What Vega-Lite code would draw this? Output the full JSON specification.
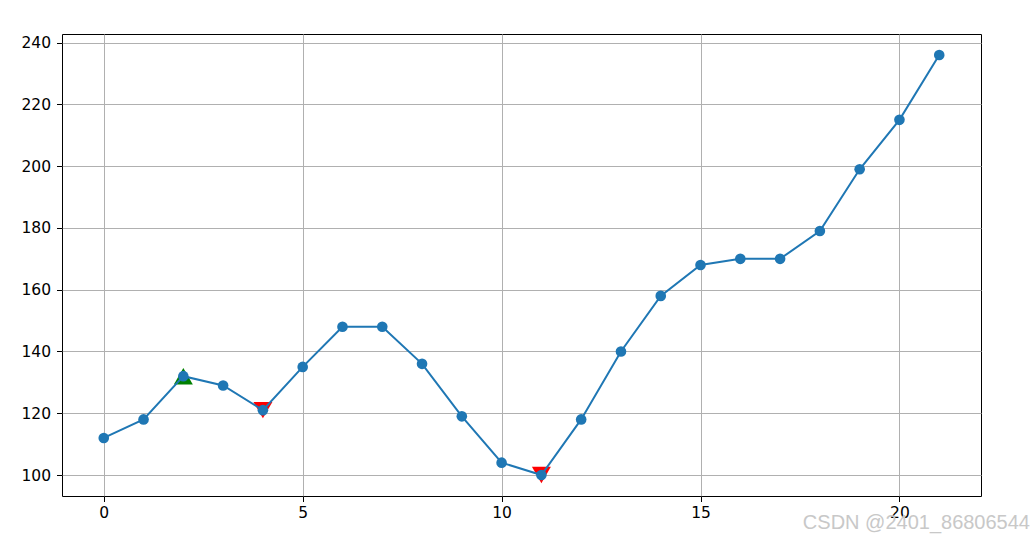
{
  "$schema": "https://vega.github.io/schema/vega-lite/v6.json",
  "width": 919,
  "height": 462,
  "autosize": {"type": "none"},
  "padding": {"left": 62, "top": 34, "right": 53, "bottom": 43},
  "background": "white",
  "config": {
    "view": {"stroke": "black", "strokeWidth": 1},
    "font": "DejaVu Sans",
    "axis": {
      "domain": false,
      "tickColor": "black",
      "tickSize": 5.5,
      "tickWidth": 1,
      "labelColor": "black",
      "labelFontSize": 15.5,
      "labelFont": "DejaVu Sans",
      "gridColor": "#b0b0b0",
      "gridWidth": 1,
      "gridOpacity": 1,
      "title": null
    },
    "axisX": {"labelPadding": 4},
    "axisY": {"labelPadding": 6}
  },
  "title": {
    "text": "CSDN @2401_86806544",
    "orient": "bottom",
    "anchor": "end",
    "color": "#c8c8c8",
    "fontSize": 20,
    "font": "Liberation Sans",
    "fontWeight": "normal",
    "offset": -8,
    "dx": 49
  },
  "datasets": {
    "series": [
      {"x": 0, "y": 112}, {"x": 1, "y": 118}, {"x": 2, "y": 132}, {"x": 3, "y": 129},
      {"x": 4, "y": 121}, {"x": 5, "y": 135}, {"x": 6, "y": 148}, {"x": 7, "y": 148},
      {"x": 8, "y": 136}, {"x": 9, "y": 119}, {"x": 10, "y": 104}, {"x": 11, "y": 100},
      {"x": 12, "y": 118}, {"x": 13, "y": 140}, {"x": 14, "y": 158}, {"x": 15, "y": 168},
      {"x": 16, "y": 170}, {"x": 17, "y": 170}, {"x": 18, "y": 179}, {"x": 19, "y": 199},
      {"x": 20, "y": 215}, {"x": 21, "y": 236}
    ],
    "signals": [
      {"x": 2, "y": 132, "kind": "buy"},
      {"x": 4, "y": 121, "kind": "sell"},
      {"x": 11, "y": 100, "kind": "sell"}
    ]
  },
  "layer": [
    {
      "data": {"name": "signals"},
      "mark": {"type": "point", "filled": true, "opacity": 1, "size": 360, "strokeWidth": 0},
      "encoding": {
        "x": {"field": "x", "type": "quantitative", "scale": {"domain": [-1.05, 22.05], "nice": false, "zero": false},
              "axis": {"values": [0, 5, 10, 15, 20], "grid": true}},
        "y": {"field": "y", "type": "quantitative", "scale": {"domain": [93.2, 242.8], "nice": false, "zero": false},
              "axis": {"values": [100, 120, 140, 160, 180, 200, 220, 240], "grid": true}},
        "shape": {"field": "kind", "type": "nominal", "scale": {"domain": ["buy", "sell"], "range": ["triangle-up", "triangle-down"]}, "legend": null},
        "color": {"field": "kind", "type": "nominal", "scale": {"domain": ["buy", "sell"], "range": ["#008000", "#ff0000"]}, "legend": null}
      }
    },
    {
      "data": {"name": "series"},
      "mark": {"type": "line", "color": "#1f77b4", "strokeWidth": 2},
      "encoding": {
        "x": {"field": "x", "type": "quantitative"},
        "y": {"field": "y", "type": "quantitative"}
      }
    },
    {
      "data": {"name": "series"},
      "mark": {"type": "circle", "color": "#1f77b4", "opacity": 1, "size": 113},
      "encoding": {
        "x": {"field": "x", "type": "quantitative"},
        "y": {"field": "y", "type": "quantitative"}
      }
    }
  ]
}
